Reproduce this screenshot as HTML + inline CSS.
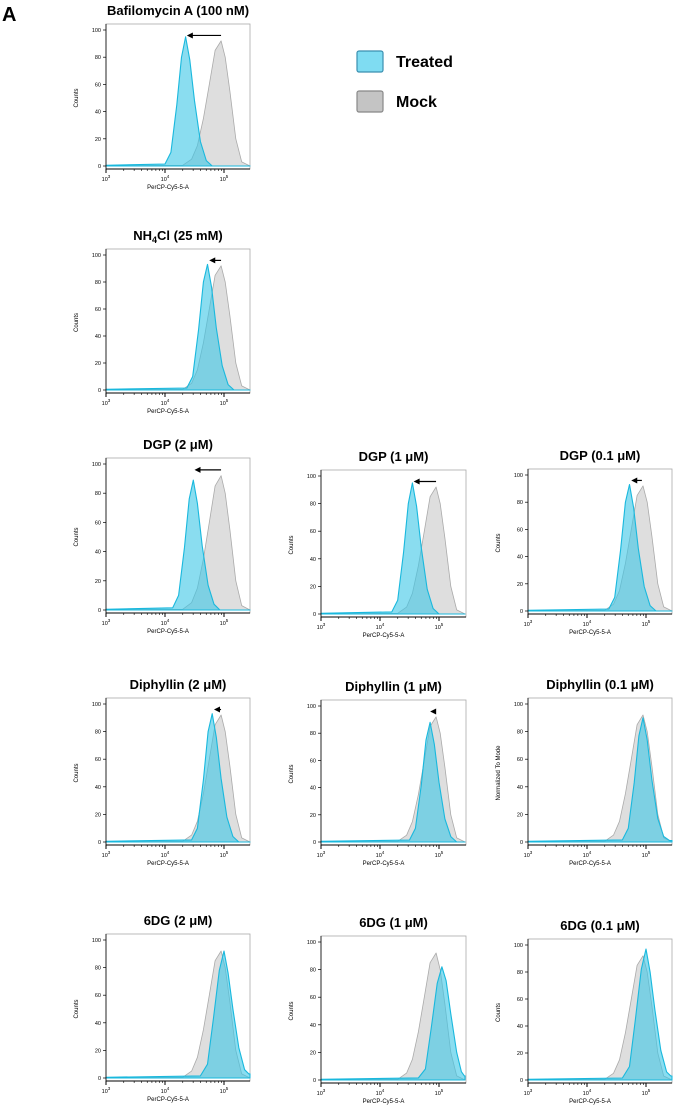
<!DOCTYPE html>
<html><head><meta charset="utf-8"><style>
body{margin:0;background:#fff;width:676px;height:1110px;overflow:hidden;font-family:"Liberation Sans",sans-serif}
svg{display:block}
</style></head><body>
<svg id="fig" width="676" height="1110">
<text x="2" y="21" font-size="20" font-weight="bold">A</text>
<g>
<rect x="357" y="51" width="26" height="21" rx="2" fill="#7fdcf2" stroke="#3a8fb0" stroke-width="1.2"/>
<text x="396" y="67" font-size="16" font-weight="bold">Treated</text>
<rect x="357" y="91" width="26" height="21" rx="2" fill="#c4c4c4" stroke="#888" stroke-width="1.2"/>
<text x="396" y="107" font-size="16" font-weight="bold">Mock</text>
</g>
</svg>
<script>
const mockX=[3,4.3,4.45,4.55,4.65,4.75,4.85,4.95,5.02,5.1,5.2,5.3,5.44];
const mockY=[0.3,0.5,5,15,35,60,85,92,80,55,20,3,0];
const titles=["Bafilomycin A (100 nM)","NH4Cl (25 mM)","DGP (2 μM)","DGP (1 μM)","DGP (0.1 μM)","Diphyllin (2 μM)","Diphyllin (1 μM)","Diphyllin (0.1 μM)","6DG (2 μM)","6DG (1 μM)","6DG (0.1 μM)"];
const treatedX=[
[3,4.0,4.1,4.2,4.28,4.35,4.42,4.5,4.6,4.7,4.8,5.44],
[3,4.37,4.47,4.57,4.65,4.72,4.79,4.87,4.97,5.07,5.17,5.44],
[3,4.13,4.23,4.33,4.41,4.48,4.55,4.63,4.73,4.83,4.93,5.44],
[3,4.2,4.3,4.4,4.48,4.55,4.62,4.7,4.8,4.9,5,5.44],
[3,4.37,4.47,4.57,4.65,4.72,4.79,4.87,4.97,5.07,5.17,5.44],
[3,4.45,4.55,4.65,4.73,4.8,4.87,4.95,5.05,5.15,5.25,5.44],
[3,4.5,4.6,4.7,4.78,4.85,4.92,5,5.1,5.2,5.3,5.44],
[3,4.6,4.7,4.8,4.88,4.95,5.02,5.1,5.2,5.3,5.4,5.44],
[3,4.6,4.72,4.82,4.92,5,5.07,5.15,5.25,5.35,5.42,5.44],
[3,4.65,4.77,4.87,4.97,5.05,5.12,5.2,5.3,5.38,5.43,5.44],
[3,4.6,4.72,4.82,4.92,5,5.07,5.15,5.25,5.35,5.42,5.44]];
const treatedY=[
[0.5,1.5,10,45,80,95,78,48,18,4,0,0],
[0.5,1.5,10,45,80,93,76,46,18,4,0,0],
[0.5,1.5,10,43,76,89,73,44,17,4,0,0],
[0.5,1.5,10,45,80,95,78,48,18,4,0,0],
[0.5,1.5,10,45,80,93,76,46,18,4,0,0],
[0.5,1.5,10,45,80,93,76,46,18,4,0,0],
[0.5,1.5,10,42,75,88,72,44,17,4,0,0],
[0.5,1.5,10,43,77,90,74,45,17,4,1,1],
[0.5,1.5,10,43,78,92,76,50,22,6,3,3],
[0.5,1.5,8,38,70,82,72,48,20,6,3,3],
[0.5,1.5,10,45,82,97,80,52,22,6,3,3]];
const arrowFrom=[4.95,4.95,4.95,4.95,4.93,4.95,4.93,null,null,null,null];
const arrowTo=[4.37,4.75,4.5,4.57,4.75,4.83,4.85,null,null,null,null];
const yTicks=[0,20,40,60,80,100];
const xTicks=[3,4,5];
const geom=[[106,30,166,250],[106,255,390,250],[106,464,610,250],[321,476,614,466],[528,475,611,672],
[106,704,842,250],[321,706,842,466],[528,704,842,672],[106,940,1078,250],[321,942,1080,466],[528,945,1080,672]];
const NS="http://www.w3.org/2000/svg";
const svg=document.getElementById('fig');
function mk(t,a,p){const e=document.createElementNS(NS,t);for(const k in a)e.setAttribute(k,a[k]);(p||svg).appendChild(e);return e;}
titles.forEach((title,i)=>{
 const [L,T,B,R]=geom[i];
 const dec=59;
 const sx=v=>L+(v-3)*dec;
 const sy=v=>B-(v/100)*(B-T);
 const g=mk('g',{});
 
 
 const fr=mk('rect',{x:L,y:T-6,width:R-L,height:B+3-(T-6),fill:'none',stroke:'#aaa','stroke-width':0.8},g);
 
 
 const path=(xs,ys)=>{let d='M'+sx(xs[0])+','+sy(0);xs.forEach((x,j)=>d+=' L'+sx(Math.min(x,5.44)).toFixed(1)+','+sy(ys[j]).toFixed(1));return d+' L'+sx(xs[xs.length-1])+','+sy(0)+'Z';};
 const m=mk('path',{d:path(mockX,mockY),fill:'#d8d8d8','fill-opacity':0.85,stroke:'#aaa','stroke-width':0.8,'stroke-linejoin':'round'},g);
 
 
 const t=mk('path',{d:path(treatedX[i],treatedY[i]),fill:'#3cc6e6','fill-opacity':0.6,stroke:'#19b8dd','stroke-width':1.1,'stroke-linejoin':'round'},g);
 
 
 mk('line',{x1:L,y1:B+3,x2:R,y2:B+3,stroke:'#000','stroke-width':1},g);
 mk('line',{x1:L,y1:T-6,x2:L,y2:B+3,stroke:'#000','stroke-width':0.8},g);
 yTicks.forEach(v=>{mk('line',{x1:L-3,y1:sy(v),x2:L,y2:sy(v),stroke:'#000','stroke-width':0.7},g);
  const tx=mk('text',{x:L-5,y:sy(v)+2,'font-size':5.5,'text-anchor':'end'},g);tx.textContent=v;
  
  });
 xTicks.forEach(v=>{mk('line',{x1:sx(v),y1:B+3,x2:sx(v),y2:B+7,stroke:'#000','stroke-width':1},g);
  const tx=mk('text',{x:sx(v),y:B+15,'font-size':5.5,'text-anchor':'middle'},g);
  tx.innerHTML='10<tspan dy="-3" font-size="4.5">'+v+'</tspan>';
  
  
  for(let k=2;k<10&&v<5;k++){const xx=sx(v+Math.log10(k));mk('line',{x1:xx,y1:B+3,x2:xx,y2:B+5,stroke:'#000','stroke-width':0.6},g);}});
 const xl=mk('text',{x:(L+R)/2-10,y:B+23,'font-size':6,'text-anchor':'middle'},g);xl.textContent='PerCP-Cy5-5-A';
 
 
 const yl=mk('text',{x:0,y:0,'font-size':6,'text-anchor':'middle',transform:`translate(${L-28},${(T+B)/2}) rotate(-90)`},g);
 yl.textContent=i===7?'Normalized To Mode':'Counts';
 
 
 const ti=mk('text',{x:(L+R)/2,y:T-15,'font-size':13,'font-weight':'bold','text-anchor':'middle'},g);
 if(i===1)ti.innerHTML='NH<tspan dy="3" font-size="9">4</tspan><tspan dy="-3">Cl (25 mM)</tspan>';else ti.textContent=title;
 
 
 if(arrowFrom[i]!==null){
  const ay=sy(96);
  const a=mk('g',{},g);
  
  
  mk('line',{x1:sx(arrowFrom[i]),y1:ay,x2:sx(arrowTo[i])+4,y2:ay,stroke:'#000','stroke-width':1.2},a);
  const x0=sx(arrowTo[i]);
  mk('path',{d:`M${x0},${ay} L${x0+6},${ay-3} L${x0+6},${ay+3}Z`,fill:'#000'},a);
 }
});
</script>
</body></html>
